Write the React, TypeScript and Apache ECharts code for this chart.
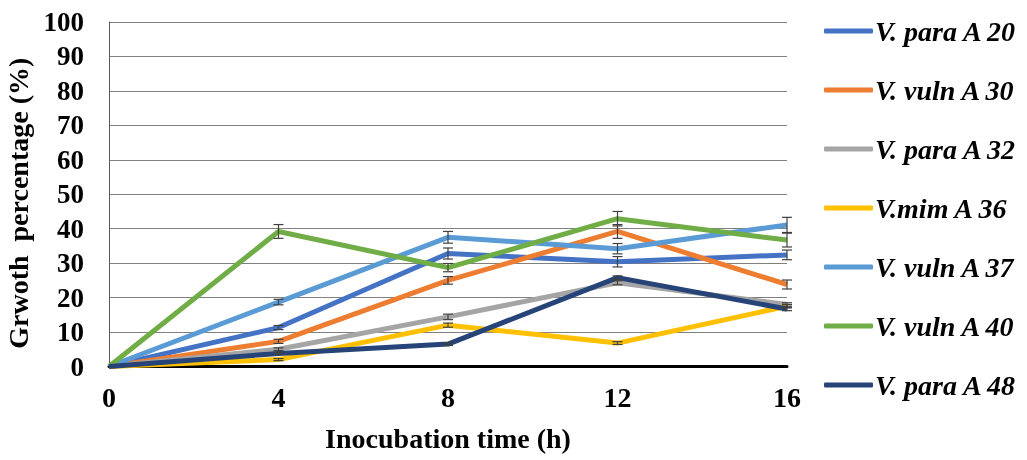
import React, { useEffect, useRef } from "react";
import * as echarts from "echarts";

const times = [0, 4, 8, 12, 16];
const seriesNames = [
  "V. para A 20",
  "V. vuln A 30",
  "V. para A 32",
  "V.mim A 36",
  "V. vuln A 37",
  "V. vuln A 40",
  "V. para A 48",
];
const vPara20 = [0, 11.3, 32.8, 30.4, 32.4];
const vVuln30 = [0, 7.3, 25.0, 39.2, 23.8];
const vPara32 = [0, 5.0, 14.4, 24.3, 18.0];
const vMim36 = [0, 2.0, 12.0, 6.8, 17.5];
const vVuln37 = [0, 18.7, 37.5, 34.2, 41.1];
const vVuln40 = [0, 39.2, 28.7, 42.9, 36.7];
const vPara48 = [0, 3.8, 6.5, 25.8, 16.7];

const err20 = [0, 0.6, 1.6, 1.5, 1.4];
const err30 = [0, 0.6, 1.1, 2.0, 1.3];
const err32 = [0, 0.4, 0.8, 0.6, 0.5];
const err36 = [0, 0.3, 0.6, 0.4, 0.5];
const err37 = [0, 0.8, 1.7, 1.5, 2.2];
const err40 = [0, 2.0, 1.2, 2.1, 2.0];
const err48 = [0, 0.3, 0.4, 0.5, 0.5];

const colors = ["#4472C4", "#ED7D31", "#A5A5A5", "#FFC000", "#5B9BD5", "#70AD47", "#264478"];

const allValues = [vPara20, vVuln30, vPara32, vMim36, vVuln37, vVuln40, vPara48];
const allErrors = [err20, err30, err32, err36, err37, err40, err48];

const FONT = "'Liberation Serif', 'Times New Roman', serif";

export default function App() {
  const ref = useRef<HTMLDivElement>(null);
  useEffect(() => {
    if (!ref.current) return;
    const chart = echarts.init(ref.current, undefined, { renderer: "svg" });
    const lineSeries = allValues.map((vals, i) => ({
      name: seriesNames[i],
      type: "line",
      data: times.map((t, j) => [t, vals[j]]),
      showSymbol: false,
      symbol: "none",
      lineStyle: { width: 5, color: colors[i] },
      itemStyle: { color: colors[i] },
      z: 2 + i * 0.01,
    }));
    const errSeries = allValues.map((vals, i) => ({
      type: "custom",
      name: "err" + i,
      data: times
        .map((t, j) => [t, vals[j] - allErrors[i][j], vals[j] + allErrors[i][j]])
        .filter((d, j) => allErrors[i][j] > 0),
      z: 5,
      silent: true,
      renderItem: (params: any, api: any) => {
        const x = api.value(0);
        const lo = api.coord([x, api.value(1)]);
        const hi = api.coord([x, api.value(2)]);
        const half = 5;
        const style = { stroke: "#404040", lineWidth: 1.2 };
        return {
          type: "group",
          children: [
            { type: "line", shape: { x1: lo[0], y1: lo[1], x2: hi[0], y2: hi[1] }, style },
            { type: "line", shape: { x1: lo[0] - half, y1: lo[1], x2: lo[0] + half, y2: lo[1] }, style },
            { type: "line", shape: { x1: hi[0] - half, y1: hi[1], x2: hi[0] + half, y2: hi[1] }, style },
          ],
        };
      },
    }));
    chart.setOption({
      animation: false,
      color: colors,
      grid: { left: 109, right: 240, top: 22, bottom: 93.5, outerBoundsMode: "none", containLabel: false },
      legend: {
        data: seriesNames,
        orient: "vertical",
        left: 819,
        top: 11,
        icon: "roundRect",
        itemWidth: 49,
        itemHeight: 5,
        itemGap: 29,
        textStyle: {
          fontFamily: FONT,
          fontWeight: "bold",
          fontStyle: "italic",
          fontSize: 28,
          lineHeight: 30,
          color: "#000",
          padding: [0, 0, 0, -3],
        },
      },
      xAxis: {
        type: "value",
        min: 0,
        max: 16,
        interval: 4,
        name: "Inocubation time (h)",
        nameLocation: "middle",
        nameGap: 58,
        nameTextStyle: { fontFamily: FONT, fontWeight: "bold", fontSize: 28, color: "#000" },
        axisLine: { show: true, lineStyle: { color: "#000", width: 3 } },
        axisTick: { show: false },
        splitLine: { show: false },
        axisLabel: { fontFamily: FONT, fontWeight: "bold", fontSize: 28, color: "#000", margin: 17 },
      },
      yAxis: {
        type: "value",
        min: 0,
        max: 100,
        interval: 10,
        name: "Grwoth  percentage (%)",
        nameLocation: "middle",
        nameGap: 72,
        nameTextStyle: {
          fontFamily: FONT,
          fontWeight: "bold",
          fontSize: 28,
          color: "#000",
          padding: [0, 18, 0, 0],
        },
        axisLine: { show: true, lineStyle: { color: "#595959", width: 1 } },
        axisTick: { show: false },
        splitLine: { show: true, lineStyle: { color: "#808080", width: 1 } },
        axisLabel: { fontFamily: FONT, fontWeight: "bold", fontSize: 27, color: "#000", margin: 25 },
      },
      series: [...lineSeries, ...errSeries],
    });
    return () => chart.dispose();
  }, []);
  return <div ref={ref} style={{ position: "fixed", left: 0, top: 0, width: 1027, height: 460 }} />;
}
